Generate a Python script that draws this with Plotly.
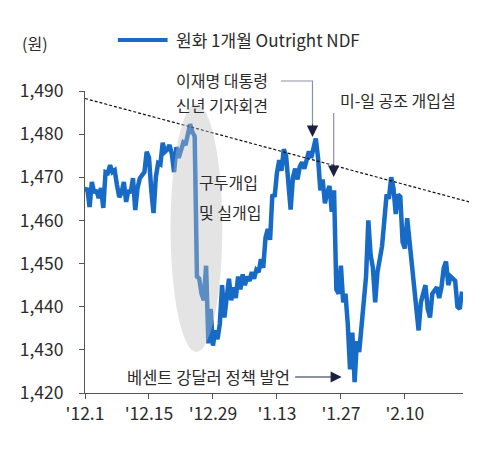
import plotly.graph_objects as go

FONT = "Noto Sans CJK KR"
LINE_BLUE = "#176bc6"
NAVY = "#1b2140"
TEXT = "#2b2b2b"

# 원화 1개월 Outright NDF (roughly two readings per day)
ndf_seg1 = [
    1466.7, 1467.5, 1463.1, 1468.9, 1466.4, 1467.0, 1465.2, 1467.5, 1462.9, 1471.2,
    1471.0, 1472.8, 1471.2, 1471.6, 1468.2, 1465.4, 1466.4, 1468.9, 1464.3, 1467.0,
    1466.4, 1469.8, 1462.4, 1467.5, 1469.8, 1470.5, 1471.2, 1475.9, 1474.6, 1467.0,
    1461.7, 1470.0, 1473.3, 1473.0, 1478.0, 1475.9, 1476.4, 1477.5, 1475.4, 1471.2,
    1477.0, 1474.5, 1476.0, 1478.0, 1477.5, 1480.5, 1482.3, 1480.5, 1479.5, 1447.0,
    1446.5, 1443.0, 1441.5, 1449.5, 1431.5, 1439.5,
]
ndf_seg2 = [
    1431.0, 1434.5, 1432.5, 1436.0, 1445.0, 1437.5, 1443.0, 1446.5, 1441.5, 1444.5,
    1442.0, 1447.0, 1444.0, 1447.5, 1445.0, 1447.0, 1446.0, 1448.0, 1446.5, 1448.5,
    1448.0, 1451.0, 1449.0, 1456.0, 1458.0, 1455.5, 1466.0, 1465.5, 1471.0, 1474.0,
    1471.5, 1476.5, 1475.0, 1469.0, 1462.5, 1470.0, 1472.0, 1469.5, 1472.5, 1473.5,
    1472.0, 1474.0, 1476.0, 1474.5, 1476.5, 1479.0, 1474.5, 1467.0, 1469.5, 1464.0,
    1466.5, 1468.0, 1462.0, 1467.0, 1444.0, 1443.0,
]
ndf_seg3 = [
    1449.5, 1441.0, 1443.0, 1436.0, 1425.5, 1434.0, 1422.5, 1432.0, 1429.5, 1436.0,
    1443.0, 1447.0, 1460.0, 1452.0, 1449.0, 1441.0, 1448.0, 1451.5, 1454.0, 1460.0,
    1466.0, 1465.0, 1470.0, 1467.5, 1461.5, 1466.0, 1465.5, 1455.0, 1453.5, 1460.5,
    1455.5, 1451.0, 1446.0, 1441.0, 1434.5, 1441.0, 1443.5, 1445.0, 1439.5, 1437.5,
    1443.0, 1444.0, 1444.5, 1442.0, 1444.5, 1449.0, 1450.5, 1445.0, 1447.0, 1446.5,
    1446.0, 1440.0, 1439.5, 1443.5,
]
x_labels = ["'12.1", "'12.15", "'12.29", "'1.13", "'1.27", "'2.10"]
label_step = 28  # readings between labelled dates

ndf = ndf_seg1 + ndf_seg2 + ndf_seg3
idx = list(range(len(ndf)))

# the page body has an 8px margin, so the figure sits 8px in from the window corner
OFF = 8
W, H = 477 - OFF, 452 - OFF
# plot box in window pixels
L, R, T, B = 83, 463, 91, 393


def px(x, y):
    """window pixel position -> paper coords"""
    return (x - L) / (R - L), (B - y) / (B - T)


fig = go.Figure()
fig.add_trace(go.Scatter(
    x=idx, y=ndf, mode="lines",
    line=dict(color=LINE_BLUE, width=4.5),
    showlegend=False, hoverinfo="skip",
))

shapes = []
# trend line, runs past the right edge of the axis
x0, y0 = px(83, 98.5)
x1, y1 = px(477, 204)
shapes.append(dict(type="line", xref="paper", yref="paper", x0=x0, y0=y0, x1=x1, y1=y1,
                   line=dict(color="#111", width=1.2, dash="3px,2px")))
# ellipse over the intervention drop
ex0, ey0 = px(169, 352)
ex1, ey1 = px(221, 104)
shapes.append(dict(type="circle", xref="paper", yref="paper", x0=ex0, y0=ey0, x1=ex1, y1=ey1,
                   fillcolor="rgba(189,189,189,0.41)", line=dict(width=0), layer="above"))
# elbow connector for the press conference note
a = px(280, 81)
b = px(311.7, 81)
c = px(311.7, 128)
shapes.append(dict(type="path", xref="paper", yref="paper",
                   path=f"M {a[0]},{a[1]} L {b[0]},{b[1]} L {c[0]},{c[1]}",
                   line=dict(color="#8c91a3", width=1.2)))
# vertical connector for the US-Japan note
d = px(333, 113)
e = px(333, 168)
shapes.append(dict(type="line", xref="paper", yref="paper", x0=d[0], y0=d[1], x1=e[0], y1=e[1],
                   line=dict(color="#8c91a3", width=1.2)))
# legend line sample
g0 = px(116, 40)
g1 = px(166, 40)
shapes.append(dict(type="line", xref="paper", yref="paper", x0=g0[0], y0=g0[1], x1=g1[0], y1=g1[1],
                   line=dict(color=LINE_BLUE, width=4)))


def note(text, x, y, anchor="center", size=16):
    p = px(x, y)
    return dict(text=text, xref="paper", yref="paper", x=p[0], y=p[1], xanchor=anchor,
                yanchor="middle", showarrow=False, font=dict(family=FONT, size=size, color=TEXT))


def head(x, y, ax, ay, width=1.2, size=1.9):
    p = px(x, y)
    return dict(text="", xref="paper", yref="paper", x=p[0], y=p[1], ax=ax, ay=ay,
                showarrow=True, arrowhead=2, arrowsize=size, arrowwidth=width,
                arrowcolor=NAVY, standoff=0)


annotations = [
    note("(원)", 18, 43, "left"),
    note("원화 1개월 Outright NDF", 172, 40, "left", size=17),
    note("이재명 대통령", 221, 80),
    note("신년 기자회견", 221, 105),
    note("미-일 공조 개입설", 398, 100),
    note("구두개입", 196, 182, "left"),
    note("및 실개입", 196, 212, "left"),
    note("베센트 강달러 정책 발언", 291, 377, "right", size=16.5),
    head(311.7, 137, 0, -14),
    head(333, 177, 0, -14),
    head(341, 377, -48, 0, width=1.0, size=2.2),
]

fig.update_layout(
    width=W, height=H,
    margin=dict(l=L - OFF, r=W - (R - OFF), t=T - OFF, b=H - (B - OFF)),
    paper_bgcolor="white", plot_bgcolor="white",
    font=dict(family=FONT, size=17, color=TEXT),
    shapes=shapes, annotations=annotations,
    xaxis=dict(
        range=[0, (R - L) / 2.297],
        tickvals=[i * label_step for i in range(len(x_labels))],
        ticktext=x_labels,
        showgrid=False, zeroline=False,
        showline=True, linecolor="#555", linewidth=1,
        ticks="outside", ticklen=5, tickcolor="#555",
        tickfont=dict(size=17.5),
    ),
    yaxis=dict(
        range=[1420, 1490], dtick=10, tickformat=",",
        showgrid=False, zeroline=False,
        showline=True, linecolor="#555", linewidth=1,
        ticks="outside", ticklen=5, tickcolor="#555",
        tickfont=dict(size=17.5), ticklabelstandoff=12,
    ),
)

fig.write_html("out.html")
